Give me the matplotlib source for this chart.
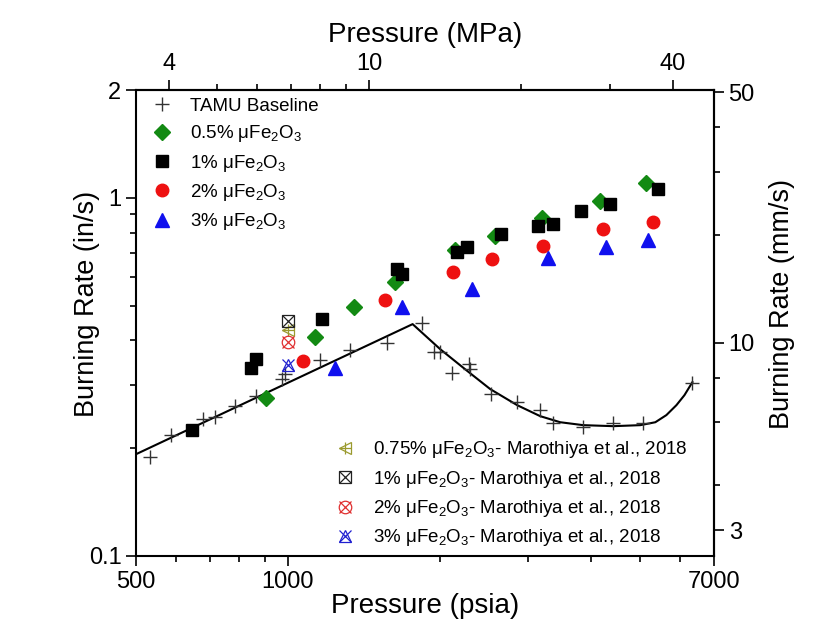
import matplotlib
matplotlib.use("Agg")
import matplotlib.pyplot as plt
from matplotlib.ticker import FixedLocator, FixedFormatter, NullFormatter

plt.rcParams["font.family"] = "Liberation Sans"
plt.rcParams["mathtext.fontset"] = "custom"
plt.rcParams["mathtext.rm"] = "Liberation Sans"
plt.rcParams["mathtext.it"] = "Liberation Sans:italic"

PSI_PER_MPA = 145.038
MM_PER_IN = 25.4

# TAMU baseline (pressure in psia, burning rate in in/s)
base_p = [532, 586, 680, 717, 786, 865, 973, 988, 1159, 1330, 1572, 1844, 1945,
          2005, 2115, 2292, 2300, 2528, 2846, 3166, 3360, 3853, 4419, 5069, 6334]
base_r = [0.189, 0.2175, 0.242, 0.2437, 0.262, 0.279, 0.313, 0.323, 0.352, 0.377,
          0.394, 0.448, 0.3716, 0.372, 0.3246, 0.3446, 0.3317, 0.2825, 0.2684,
          0.2554, 0.2348, 0.2289, 0.2348, 0.2348, 0.305]

# baseline fit curve
fit_p = [500, 1768, 2005, 2258, 2520, 2850, 3166, 3469, 3853, 4419, 5000,
         5355, 5632, 5896, 6116, 6343]
fit_r = [0.1924, 0.444, 0.378, 0.3304, 0.2924, 0.2637, 0.2457, 0.2363, 0.2319,
         0.2304, 0.2319, 0.2363, 0.2474, 0.2637, 0.2812, 0.3058]

# 0.5% uFe2O3
p05 = [904, 1133, 1353, 1633, 2147, 2579, 3191, 4165, 5134]
r05 = [0.2753, 0.4094, 0.4963, 0.5827, 0.7146, 0.782, 0.8794, 0.9796, 1.097]

# 1% uFe2O3
p1 = [646.5, 845, 864, 1168, 1648, 1686, 2170, 2265, 2646, 3131, 3355, 3813, 4345, 5413]
r1 = [0.2245, 0.3352, 0.3539, 0.4577, 0.6325, 0.6124, 0.7041, 0.7272, 0.7907,
      0.834, 0.8432, 0.9183, 0.9585, 1.0558]

# 2% uFe2O3
p2 = [1074, 1560, 2125, 2540, 3206, 4210, 5301]
r2 = [0.35, 0.5181, 0.619, 0.6742, 0.7331, 0.8199, 0.8573]

# 3% uFe2O3
p3 = [1241, 1688, 2318, 3280, 4274, 5181]
r3 = [0.3339, 0.4963, 0.5549, 0.6773, 0.7272, 0.7623]

# Marothiya et al., 2018 (single points at 1000 psia)
mar_p = [1000]
mar_075 = [0.4272]
mar_1 = [0.4535]
mar_2 = [0.396]
mar_3 = [0.3409]

fig = plt.figure(figsize=(8.36, 6.26), dpi=100)
ax = fig.add_axes([136 / 836, 1 - 556 / 626, 578 / 836, 466 / 626])
ax.set_xscale("log")
ax.set_yscale("log")

ax.plot(fit_p, fit_r, color="black", lw=1.5, zorder=2)
h_base, = ax.plot(base_p, base_r, ls="none", marker="+", ms=10, mew=1.0,
                  color="#333333", zorder=3)
h05, = ax.plot(p05, r05, ls="none", marker="D", ms=8, color="#138a13", zorder=4)
h1, = ax.plot(p1, r1, ls="none", marker="s", ms=9, color="black", zorder=4)
h2, = ax.plot(p2, r2, ls="none", marker="o", ms=9, color="#ee1111", zorder=4)
h3, = ax.plot(p3, r3, ls="none", marker="^", ms=9.5, color="#1010ee", zorder=4)

# open markers with a cross drawn on top
def open_marker(y, shape, cross, color):
    a, = ax.plot(mar_p, y, ls="none", marker=shape, ms=9, mfc="none", mec=color,
                 mew=0.9, zorder=5)
    b, = ax.plot(mar_p, y, ls="none", marker=cross, ms=8, color=color, mew=0.9,
                 zorder=5)
    return (a, b)

m075 = open_marker(mar_075, "<", "+", "#9a9a2e")
m1 = open_marker(mar_1, "s", "x", "#222222")
m2 = open_marker(mar_2, "o", "x", "#e03030")
m3 = open_marker(mar_3, "^", "x", "#2020d0")

ax.set_xlim(500, 7000)
ax.set_ylim(0.1, 2)

ax.xaxis.set_major_locator(FixedLocator([500, 1000, 7000]))
ax.xaxis.set_major_formatter(FixedFormatter(["500", "1000", "7000"]))
ax.xaxis.set_minor_locator(FixedLocator([600, 700, 800, 900, 2000, 3000, 4000, 5000, 6000]))
ax.xaxis.set_minor_formatter(NullFormatter())
ax.yaxis.set_major_locator(FixedLocator([0.1, 1, 2]))
ax.yaxis.set_major_formatter(FixedFormatter(["0.1", "1", "2"]))
ax.yaxis.set_minor_locator(FixedLocator([0.2, 0.3, 0.4, 0.5, 0.6, 0.7, 0.8, 0.9]))
ax.yaxis.set_minor_formatter(NullFormatter())

ax.set_xlabel("Pressure (psia)", fontsize=20, labelpad=0)
ax.set_ylabel("Burning Rate (in/s)", fontsize=19.5)
ax.yaxis.set_label_coords(-0.062, 0.54)

secx = ax.secondary_xaxis("top", functions=(lambda p: p / PSI_PER_MPA,
                                            lambda m: m * PSI_PER_MPA))
secx.xaxis.set_major_locator(FixedLocator([4, 10, 40]))
secx.xaxis.set_major_formatter(FixedFormatter(["4", "10", "40"]))
secx.xaxis.set_minor_locator(FixedLocator([5, 6, 7, 8, 9, 20, 30]))
secx.xaxis.set_minor_formatter(NullFormatter())
secx.set_xlabel("Pressure (MPa)", fontsize=20, labelpad=8)

secy = ax.secondary_yaxis("right", functions=(lambda r: r * MM_PER_IN,
                                              lambda m: m / MM_PER_IN))
secy.yaxis.set_major_locator(FixedLocator([3, 10, 50]))
secy.yaxis.set_major_formatter(FixedFormatter(["3", "10", "50"]))
secy.yaxis.set_minor_locator(FixedLocator([4, 6, 8, 20, 30, 40]))
secy.yaxis.set_minor_formatter(NullFormatter())
secy.set_ylabel("Burning Rate (mm/s)", fontsize=19.5, labelpad=10)
secy.yaxis.label.set_y(0.54)

for a in (ax, secx, secy):
    a.tick_params(which="major", direction="out", length=7, width=1.2, labelsize=17)
    a.tick_params(which="minor", direction="out", length=4.5, width=1.2)
    for s in a.spines.values():
        s.set_linewidth(1.5)

leg1 = ax.legend([h_base, h05, h1, h2, h3],
                 ["TAMU Baseline", "0.5% μFe$_2$O$_3$", "1% μFe$_2$O$_3$",
                  "2% μFe$_2$O$_3$", "3% μFe$_2$O$_3$"],
                 loc="upper left", bbox_to_anchor=(0.013, 1.0), borderaxespad=0,
                 frameon=False, fontsize=13.5, handlelength=1.2, handletextpad=0.9,
                 labelspacing=0.45)
ax.add_artist(leg1)
ax.legend([m075, m1, m2, m3],
          ["0.75% μFe$_2$O$_3$- Marothiya et al., 2018",
           "1% μFe$_2$O$_3$- Marothiya et al., 2018",
           "2% μFe$_2$O$_3$- Marothiya et al., 2018",
           "3% μFe$_2$O$_3$- Marothiya et al., 2018"],
          loc="lower left", bbox_to_anchor=(0.329, 0.0), borderaxespad=0,
          frameon=False, fontsize=13.5, handlelength=1.2, handletextpad=0.9,
          labelspacing=0.45)

fig.savefig("out.png", dpi=100)
